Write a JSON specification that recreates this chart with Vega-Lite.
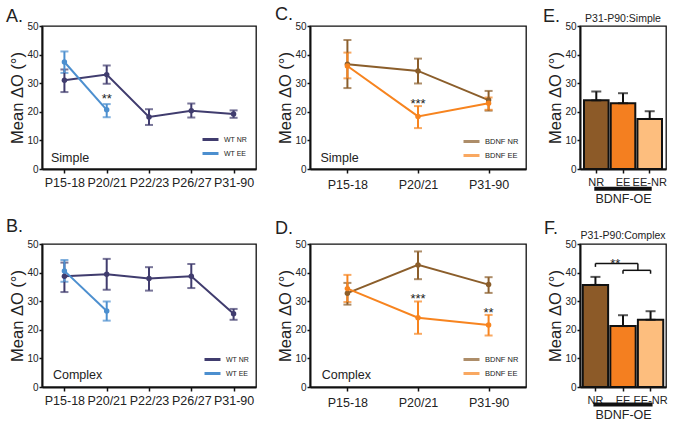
{
  "$schema": "https://vega.github.io/schema/vega-lite/v6.json",
  "background": "white",
  "padding": {"left": 5, "top": 5, "right": 5, "bottom": 5},
  "bounds": "flush",
  "columns": 3,
  "spacing": {"row": 75, "column": 54},
  "resolve": {"scale": {"x": "independent", "y": "independent", "color": "independent"}, "legend": {"color": "independent"}},
  "config": {
    "font": "Liberation Sans",
    "view": {"stroke": "#111", "strokeWidth": 1.3},
    "axis": {"domainColor": "#111", "domainWidth": 2, "tickColor": "#111", "tickWidth": 1.5, "tickSize": 4, "labelColor": "#222", "titleColor": "#222", "grid": false, "labelFont": "Liberation Sans", "titleFont": "Liberation Sans", "titleFontWeight": "normal", "labelPadding": 2},
    "axisY": {"labelFontSize": 10, "titleFontSize": 16.5, "titlePadding": 1, "tickSize": 3, "labelPadding": 1, "labelOverlap": false},
    "axisX": {"labelFontSize": 12.5, "labelAngle": 0, "labelPadding": 3, "labelOverlap": false},
    "title": {"fontSize": 18, "fontWeight": "normal", "anchor": "start", "frame": "group", "color": "#222", "baseline": "alphabetic", "font": "Liberation Sans"},
    "legend": {"orient": "bottom-right", "title": null, "symbolType": "M-2,0L2,0", "symbolStrokeWidth": 3, "symbolSize": 64, "labelFontSize": 7.5, "labelFont": "Liberation Sans", "rowPadding": 1, "padding": 0, "offset": 8, "labelOffset": 8, "labelColor": "#222"}
  },
  "datasets": {
    "wtS": [
      {"age": "P15-18", "group": "WT NR", "mean": 31.0, "lo": 26.9, "hi": 34.8},
      {"age": "P20/21", "group": "WT NR", "mean": 33.0, "lo": 29.8, "hi": 36.2},
      {"age": "P22/23", "group": "WT NR", "mean": 18.2, "lo": 15.4, "hi": 20.9},
      {"age": "P26/27", "group": "WT NR", "mean": 20.4, "lo": 18.0, "hi": 22.9},
      {"age": "P31-90", "group": "WT NR", "mean": 19.2, "lo": 17.9, "hi": 20.5},
      {"age": "P15-18", "group": "WT EE", "mean": 37.4, "lo": 33.6, "hi": 41.1},
      {"age": "P20/21", "group": "WT EE", "mean": 20.7, "lo": 18.1, "hi": 22.7}
    ],
    "wtC": [
      {"age": "P15-18", "group": "WT NR", "mean": 38.7, "lo": 33.2, "hi": 43.5},
      {"age": "P20/21", "group": "WT NR", "mean": 39.4, "lo": 34.0, "hi": 44.8},
      {"age": "P22/23", "group": "WT NR", "mean": 37.9, "lo": 33.7, "hi": 41.9},
      {"age": "P26/27", "group": "WT NR", "mean": 38.7, "lo": 34.6, "hi": 43.0},
      {"age": "P31-90", "group": "WT NR", "mean": 25.6, "lo": 23.5, "hi": 27.3},
      {"age": "P15-18", "group": "WT EE", "mean": 40.6, "lo": 36.8, "hi": 44.4},
      {"age": "P20/21", "group": "WT EE", "mean": 26.6, "lo": 23.2, "hi": 29.9}
    ],
    "bdS": [
      {"age": "P15-18", "group": "BDNF NR", "mean": 36.6, "lo": 28.3, "hi": 45.1},
      {"age": "P20/21", "group": "BDNF NR", "mean": 34.3, "lo": 29.9, "hi": 38.6},
      {"age": "P31-90", "group": "BDNF NR", "mean": 24.1, "lo": 20.4, "hi": 27.3},
      {"age": "P15-18", "group": "BDNF EE", "mean": 36.0, "lo": 31.7, "hi": 40.7},
      {"age": "P20/21", "group": "BDNF EE", "mean": 18.4, "lo": 14.3, "hi": 22.0},
      {"age": "P31-90", "group": "BDNF EE", "mean": 23.0, "lo": 20.7, "hi": 25.0}
    ],
    "bdC": [
      {"age": "P15-18", "group": "BDNF NR", "mean": 32.8, "lo": 28.8, "hi": 36.4},
      {"age": "P20/21", "group": "BDNF NR", "mean": 42.7, "lo": 37.7, "hi": 47.4},
      {"age": "P31-90", "group": "BDNF NR", "mean": 35.8, "lo": 32.9, "hi": 38.4},
      {"age": "P15-18", "group": "BDNF EE", "mean": 34.4, "lo": 29.7, "hi": 39.2},
      {"age": "P20/21", "group": "BDNF EE", "mean": 24.2, "lo": 18.6, "hi": 29.9},
      {"age": "P31-90", "group": "BDNF EE", "mean": 21.7, "lo": 18.0, "hi": 25.2}
    ],
    "barS": [
      {"cond": "NR", "mean": 24.0, "hi": 27.1},
      {"cond": "EE", "mean": 23.0, "hi": 26.5},
      {"cond": "EE-NR", "mean": 17.5, "hi": 20.2}
    ],
    "barC": [
      {"cond": "NR", "mean": 35.7, "hi": 38.5},
      {"cond": "EE", "mean": 21.3, "hi": 25.1},
      {"cond": "EE-NR", "mean": 23.5, "hi": 26.5}
    ],
    "txtA": [{"age": "P20/21", "y": 23.1, "label": "**"}],
    "txtC": [{"age": "P20/21", "y": 21.2, "label": "***"}],
    "txtD": [{"age": "P20/21", "y": 29.3, "label": "***"}, {"age": "P31-90", "y": 24.6, "label": "**"}],
    "lblA": [{"age": "P15-18", "y": 2.6, "label": "Simple"}],
    "lblB": [{"age": "P15-18", "y": 2.9, "label": "Complex"}],
    "lblC": [{"age": "P15-18", "y": 2.5, "label": "Simple"}],
    "lblD": [{"age": "P15-18", "y": 2.7, "label": "Complex"}],
    "hdE": [{"a": "EE", "y": 50, "label": "P31-P90:Simple"}],
    "hdF": [{"a": "EE", "y": 50, "label": "P31-P90:Complex"}],
    "ulE": [{"a": "NR", "b": "EE-NR", "y": -6.9}],
    "ulF": [{"a": "NR", "b": "EE-NR", "y": -6.1}],
    "brH1": [{"a": "EE-NR", "b": "NR", "y": 43.2}],
    "brH2": [{"a": "EE", "b": "EE-NR", "y": 40.8}],
    "brV": [{"a": "NR", "y": 43.2, "y2": 42.0}, {"a": "EE", "y": 40.8, "y2": 39.6}, {"a": "EE-NR", "y": 40.8, "y2": 39.6}],
    "brM": [{"a": "EE-NR", "y": 43.2, "y2": 40.8}],
    "sigF": [{"a": "EE", "y": 41.5, "label": "**"}]
  },
  "concat": [
    {
      "width": 214, "height": 143,
      "title": {"text": "A.", "dx": -36, "offset": -4.7},
      "encoding": {"x": {"field": "age", "type": "ordinal", "scale": {"type": "point", "padding": 0.53, "domain": ["P15-18", "P20/21", "P22/23", "P26/27", "P31-90"]}, "axis": {"title": null}}},
      "layer": [
        {"data": {"name": "wtS"}, "mark": {"type": "line", "strokeWidth": 2},
         "encoding": {"y": {"field": "mean", "type": "quantitative", "title": "Mean ΔO (°)", "scale": {"domain": [0, 50]}, "axis": {"values": [0, 10, 20, 30, 40, 50], "labelOverlap": false, "tickCount": 6}},
                      "color": {"field": "group", "type": "nominal", "scale": {"domain": ["WT NR", "WT EE"], "range": ["#403c6e", "#4c8fcf"]},
                                "legend": {"labelFontSize": 7, "offset": 9.5, "encode": {"symbols": {"update": {"stroke": {"signal": "datum.value === 'WT EE' ? '#66c8f0' : '#403c6e'"}}}}}}}},
        {"data": {"name": "wtS"}, "mark": {"type": "errorbar", "ticks": {"size": 8}, "thickness": 2},
         "encoding": {"y": {"field": "lo", "type": "quantitative", "title": "Mean ΔO (°)", "axis": {"values": [0, 10, 20, 30, 40, 50], "labelOverlap": false, "tickCount": 6}}, "y2": {"field": "hi"}, "color": {"field": "group", "type": "nominal"}}},
        {"data": {"name": "wtS"}, "mark": {"type": "point", "filled": true, "size": 30, "opacity": 1},
         "encoding": {"y": {"field": "mean", "type": "quantitative", "title": "Mean ΔO (°)", "axis": {"values": [0, 10, 20, 30, 40, 50], "labelOverlap": false, "tickCount": 6}}, "color": {"field": "group", "type": "nominal"}}},
        {"data": {"name": "txtA"}, "mark": {"type": "text", "fontSize": 13, "baseline": "alphabetic", "color": "#222"},
         "encoding": {"x": {"field": "age", "type": "ordinal"}, "y": {"field": "y", "type": "quantitative", "title": "Mean ΔO (°)", "axis": {"values": [0, 10, 20, 30, 40, 50], "labelOverlap": false, "tickCount": 6}}, "text": {"field": "label"}}},
        {"data": {"name": "lblA"}, "mark": {"type": "text", "fontSize": 12.5, "baseline": "alphabetic", "align": "left", "dx": -13.5, "color": "#222"},
         "encoding": {"x": {"field": "age", "type": "ordinal"}, "y": {"field": "y", "type": "quantitative", "title": "Mean ΔO (°)", "axis": {"values": [0, 10, 20, 30, 40, 50], "labelOverlap": false, "tickCount": 6}}, "text": {"field": "label"}}}
      ]
    },
    {
      "width": 216, "height": 143,
      "title": {"text": "C.", "dx": -35, "offset": -3},
      "encoding": {"x": {"field": "age", "type": "ordinal", "scale": {"type": "point", "padding": 0.53, "domain": ["P15-18", "P20/21", "P31-90"]}, "axis": {"title": null, "labelPadding": 5}}},
      "layer": [
        {"data": {"name": "bdS"}, "mark": {"type": "line", "strokeWidth": 2},
         "encoding": {"y": {"field": "mean", "type": "quantitative", "title": "Mean ΔO (°)", "scale": {"domain": [0, 50]}, "axis": {"values": [0, 10, 20, 30, 40, 50], "labelOverlap": false, "tickCount": 6}},
                      "color": {"field": "group", "type": "nominal", "scale": {"domain": ["BDNF NR", "BDNF EE"], "range": ["#8b5e2b", "#f7841f"]}, "legend": {"offset": 7}}}},
        {"data": {"name": "bdS"}, "mark": {"type": "errorbar", "ticks": {"size": 8}, "thickness": 2},
         "encoding": {"y": {"field": "lo", "type": "quantitative", "title": "Mean ΔO (°)", "axis": {"values": [0, 10, 20, 30, 40, 50], "labelOverlap": false, "tickCount": 6}}, "y2": {"field": "hi"}, "color": {"field": "group", "type": "nominal"}}},
        {"data": {"name": "bdS"}, "mark": {"type": "point", "filled": true, "size": 30, "opacity": 1},
         "encoding": {"y": {"field": "mean", "type": "quantitative", "title": "Mean ΔO (°)", "axis": {"values": [0, 10, 20, 30, 40, 50], "labelOverlap": false, "tickCount": 6}}, "color": {"field": "group", "type": "nominal"}}},
        {"data": {"name": "txtC"}, "mark": {"type": "text", "fontSize": 13, "baseline": "alphabetic", "color": "#222"},
         "encoding": {"x": {"field": "age", "type": "ordinal"}, "y": {"field": "y", "type": "quantitative", "title": "Mean ΔO (°)", "axis": {"values": [0, 10, 20, 30, 40, 50], "labelOverlap": false, "tickCount": 6}}, "text": {"field": "label"}}},
        {"data": {"name": "lblC"}, "mark": {"type": "text", "fontSize": 12.5, "baseline": "alphabetic", "align": "left", "dx": -27, "color": "#222"},
         "encoding": {"x": {"field": "age", "type": "ordinal"}, "y": {"field": "y", "type": "quantitative", "title": "Mean ΔO (°)", "axis": {"values": [0, 10, 20, 30, 40, 50], "labelOverlap": false, "tickCount": 6}}, "text": {"field": "label"}}}
      ]
    },
    {
      "width": 86, "height": 143,
      "title": {"text": "E.", "dx": -37, "offset": -12},
      "encoding": {"x": {"field": "a", "type": "nominal", "scale": {"type": "band", "domain": ["NR", "EE", "EE-NR"], "paddingInner": 0.08, "paddingOuter": 0.15}, "axis": {"title": "BDNF-OE", "titleFontSize": 12.5, "titleFontWeight": "normal", "labelFontSize": 11, "titlePadding": 5}}},
      "layer": [
        {"data": {"name": "barS"}, "mark": {"type": "bar", "stroke": "#111", "strokeWidth": 2},
         "encoding": {"x": {"field": "cond", "type": "nominal"}, "y": {"field": "mean", "type": "quantitative", "title": "Mean ΔO (°)", "scale": {"domain": [0, 50]}, "axis": {"values": [0, 10, 20, 30, 40, 50], "labelOverlap": false, "tickCount": 6}},
                      "color": {"field": "cond", "type": "nominal", "scale": {"domain": ["NR", "EE", "EE-NR"], "range": ["#8c5a28", "#f47f20", "#fdbe7e"]}, "legend": null}}},
        {"data": {"name": "barS"}, "mark": {"type": "errorbar", "ticks": {"size": 10}, "thickness": 2, "color": "#111"},
         "encoding": {"x": {"field": "cond", "type": "nominal"}, "y": {"field": "mean", "type": "quantitative", "title": "Mean ΔO (°)", "axis": {"values": [0, 10, 20, 30, 40, 50], "labelOverlap": false, "tickCount": 6}}, "y2": {"field": "hi"}}},
        {"data": {"name": "ulE"}, "mark": {"type": "rule", "strokeWidth": 4, "strokeCap": "square", "color": "#111", "clip": false},
         "encoding": {"x": {"field": "a", "type": "nominal"}, "x2": {"field": "b"}, "y": {"field": "y", "type": "quantitative", "title": "Mean ΔO (°)", "axis": {"values": [0, 10, 20, 30, 40, 50], "labelOverlap": false, "tickCount": 6}}}},
        {"data": {"name": "hdE"}, "mark": {"type": "text", "fontSize": 10.5, "baseline": "alphabetic", "dy": -4, "color": "#222"},
         "encoding": {"x": {"field": "a", "type": "nominal"}, "y": {"field": "y", "type": "quantitative", "title": "Mean ΔO (°)", "axis": {"values": [0, 10, 20, 30, 40, 50], "labelOverlap": false, "tickCount": 6}}, "text": {"field": "label"}}}
      ]
    },
    {
      "width": 214, "height": 143,
      "title": {"text": "B.", "dx": -36, "offset": 3},
      "encoding": {"x": {"field": "age", "type": "ordinal", "scale": {"type": "point", "padding": 0.53, "domain": ["P15-18", "P20/21", "P22/23", "P26/27", "P31-90"]}, "axis": {"title": null}}},
      "layer": [
        {"data": {"name": "wtC"}, "mark": {"type": "line", "strokeWidth": 2},
         "encoding": {"y": {"field": "mean", "type": "quantitative", "title": "Mean ΔO (°)", "scale": {"domain": [0, 50]}, "axis": {"values": [0, 10, 20, 30, 40, 50], "labelOverlap": false, "tickCount": 6}},
                      "color": {"field": "group", "type": "nominal", "scale": {"domain": ["WT NR", "WT EE"], "range": ["#403c6e", "#4c8fcf"]},
                                "legend": {"labelFontSize": 7, "offset": 7.5, "encode": {"symbols": {"update": {"stroke": {"signal": "datum.value === 'WT EE' ? '#66c8f0' : '#403c6e'"}}}}}}}},
        {"data": {"name": "wtC"}, "mark": {"type": "errorbar", "ticks": {"size": 8}, "thickness": 2},
         "encoding": {"y": {"field": "lo", "type": "quantitative", "title": "Mean ΔO (°)", "axis": {"values": [0, 10, 20, 30, 40, 50], "labelOverlap": false, "tickCount": 6}}, "y2": {"field": "hi"}, "color": {"field": "group", "type": "nominal"}}},
        {"data": {"name": "wtC"}, "mark": {"type": "point", "filled": true, "size": 30, "opacity": 1},
         "encoding": {"y": {"field": "mean", "type": "quantitative", "title": "Mean ΔO (°)", "axis": {"values": [0, 10, 20, 30, 40, 50], "labelOverlap": false, "tickCount": 6}}, "color": {"field": "group", "type": "nominal"}}},
        {"data": {"name": "lblB"}, "mark": {"type": "text", "fontSize": 12.5, "baseline": "alphabetic", "align": "left", "dx": -11.5, "color": "#222"},
         "encoding": {"x": {"field": "age", "type": "ordinal"}, "y": {"field": "y", "type": "quantitative", "title": "Mean ΔO (°)", "axis": {"values": [0, 10, 20, 30, 40, 50], "labelOverlap": false, "tickCount": 6}}, "text": {"field": "label"}}}
      ]
    },
    {
      "width": 216, "height": 143,
      "title": {"text": "D.", "dx": -35, "offset": 1},
      "encoding": {"x": {"field": "age", "type": "ordinal", "scale": {"type": "point", "padding": 0.53, "domain": ["P15-18", "P20/21", "P31-90"]}, "axis": {"title": null, "labelPadding": 5}}},
      "layer": [
        {"data": {"name": "bdC"}, "mark": {"type": "line", "strokeWidth": 2},
         "encoding": {"y": {"field": "mean", "type": "quantitative", "title": "Mean ΔO (°)", "scale": {"domain": [0, 50]}, "axis": {"values": [0, 10, 20, 30, 40, 50], "labelOverlap": false, "tickCount": 6}},
                      "color": {"field": "group", "type": "nominal", "scale": {"domain": ["BDNF NR", "BDNF EE"], "range": ["#8b5e2b", "#f7841f"]}, "legend": {"offset": 7}}}},
        {"data": {"name": "bdC"}, "mark": {"type": "errorbar", "ticks": {"size": 8}, "thickness": 2},
         "encoding": {"y": {"field": "lo", "type": "quantitative", "title": "Mean ΔO (°)", "axis": {"values": [0, 10, 20, 30, 40, 50], "labelOverlap": false, "tickCount": 6}}, "y2": {"field": "hi"}, "color": {"field": "group", "type": "nominal"}}},
        {"data": {"name": "bdC"}, "mark": {"type": "point", "filled": true, "size": 30, "opacity": 1},
         "encoding": {"y": {"field": "mean", "type": "quantitative", "title": "Mean ΔO (°)", "axis": {"values": [0, 10, 20, 30, 40, 50], "labelOverlap": false, "tickCount": 6}}, "color": {"field": "group", "type": "nominal"}}},
        {"data": {"name": "txtD"}, "mark": {"type": "text", "fontSize": 13, "baseline": "alphabetic", "color": "#222"},
         "encoding": {"x": {"field": "age", "type": "ordinal"}, "y": {"field": "y", "type": "quantitative", "title": "Mean ΔO (°)", "axis": {"values": [0, 10, 20, 30, 40, 50], "labelOverlap": false, "tickCount": 6}}, "text": {"field": "label"}}},
        {"data": {"name": "lblD"}, "mark": {"type": "text", "fontSize": 12.5, "baseline": "alphabetic", "align": "left", "dx": -25.7, "color": "#222"},
         "encoding": {"x": {"field": "age", "type": "ordinal"}, "y": {"field": "y", "type": "quantitative", "title": "Mean ΔO (°)", "axis": {"values": [0, 10, 20, 30, 40, 50], "labelOverlap": false, "tickCount": 6}}, "text": {"field": "label"}}}
      ]
    },
    {
      "width": 86, "height": 143,
      "title": {"text": "F.", "dx": -36, "offset": -6.5},
      "encoding": {"x": {"field": "a", "type": "nominal", "scale": {"type": "band", "domain": ["NR", "EE", "EE-NR"], "paddingInner": 0.08, "paddingOuter": 0.1}, "axis": {"title": "BDNF-OE", "titleFontSize": 12.5, "titleFontWeight": "normal", "labelFontSize": 11, "titlePadding": 3}}},
      "layer": [
        {"data": {"name": "barC"}, "mark": {"type": "bar", "stroke": "#111", "strokeWidth": 2},
         "encoding": {"x": {"field": "cond", "type": "nominal"}, "y": {"field": "mean", "type": "quantitative", "title": "Mean ΔO (°)", "scale": {"domain": [0, 50]}, "axis": {"values": [0, 10, 20, 30, 40, 50], "labelOverlap": false, "tickCount": 6}},
                      "color": {"field": "cond", "type": "nominal", "scale": {"domain": ["NR", "EE", "EE-NR"], "range": ["#8c5a28", "#f47f20", "#fdbe7e"]}, "legend": null}}},
        {"data": {"name": "barC"}, "mark": {"type": "errorbar", "ticks": {"size": 10}, "thickness": 2, "color": "#111"},
         "encoding": {"x": {"field": "cond", "type": "nominal"}, "y": {"field": "mean", "type": "quantitative", "title": "Mean ΔO (°)", "axis": {"values": [0, 10, 20, 30, 40, 50], "labelOverlap": false, "tickCount": 6}}, "y2": {"field": "hi"}}},
        {"data": {"name": "ulF"}, "mark": {"type": "rule", "strokeWidth": 4, "strokeCap": "square", "color": "#111", "clip": false},
         "encoding": {"x": {"field": "a", "type": "nominal"}, "x2": {"field": "b"}, "y": {"field": "y", "type": "quantitative", "title": "Mean ΔO (°)", "axis": {"values": [0, 10, 20, 30, 40, 50], "labelOverlap": false, "tickCount": 6}}}},
        {"data": {"name": "brH1"}, "mark": {"type": "rule", "strokeWidth": 1.5, "color": "#111"},
         "encoding": {"x": {"field": "a", "type": "nominal", "bandPosition": 0}, "x2": {"field": "b"}, "y": {"field": "y", "type": "quantitative", "title": "Mean ΔO (°)", "axis": {"values": [0, 10, 20, 30, 40, 50], "labelOverlap": false, "tickCount": 6}}}},
        {"data": {"name": "brH2"}, "mark": {"type": "rule", "strokeWidth": 1.5, "color": "#111"},
         "encoding": {"x": {"field": "a", "type": "nominal"}, "x2": {"field": "b"}, "y": {"field": "y", "type": "quantitative", "title": "Mean ΔO (°)", "axis": {"values": [0, 10, 20, 30, 40, 50], "labelOverlap": false, "tickCount": 6}}}},
        {"data": {"name": "brV"}, "mark": {"type": "rule", "strokeWidth": 1.5, "color": "#111"},
         "encoding": {"x": {"field": "a", "type": "nominal"}, "y": {"field": "y", "type": "quantitative", "title": "Mean ΔO (°)", "axis": {"values": [0, 10, 20, 30, 40, 50], "labelOverlap": false, "tickCount": 6}}, "y2": {"field": "y2"}}},
        {"data": {"name": "brM"}, "mark": {"type": "rule", "strokeWidth": 1.5, "color": "#111"},
         "encoding": {"x": {"field": "a", "type": "nominal", "bandPosition": 0}, "y": {"field": "y", "type": "quantitative", "title": "Mean ΔO (°)", "axis": {"values": [0, 10, 20, 30, 40, 50], "labelOverlap": false, "tickCount": 6}}, "y2": {"field": "y2"}}},
        {"data": {"name": "sigF"}, "mark": {"type": "text", "fontSize": 13, "baseline": "alphabetic", "dx": 5, "color": "#222"},
         "encoding": {"x": {"field": "a", "type": "nominal", "bandPosition": 0}, "y": {"field": "y", "type": "quantitative", "title": "Mean ΔO (°)", "axis": {"values": [0, 10, 20, 30, 40, 50], "labelOverlap": false, "tickCount": 6}}, "text": {"field": "label"}}},
        {"data": {"name": "hdF"}, "mark": {"type": "text", "fontSize": 10.5, "baseline": "alphabetic", "dy": -5, "color": "#222"},
         "encoding": {"x": {"field": "a", "type": "nominal"}, "y": {"field": "y", "type": "quantitative", "title": "Mean ΔO (°)", "axis": {"values": [0, 10, 20, 30, 40, 50], "labelOverlap": false, "tickCount": 6}}, "text": {"field": "label"}}}
      ]
    }
  ]
}
